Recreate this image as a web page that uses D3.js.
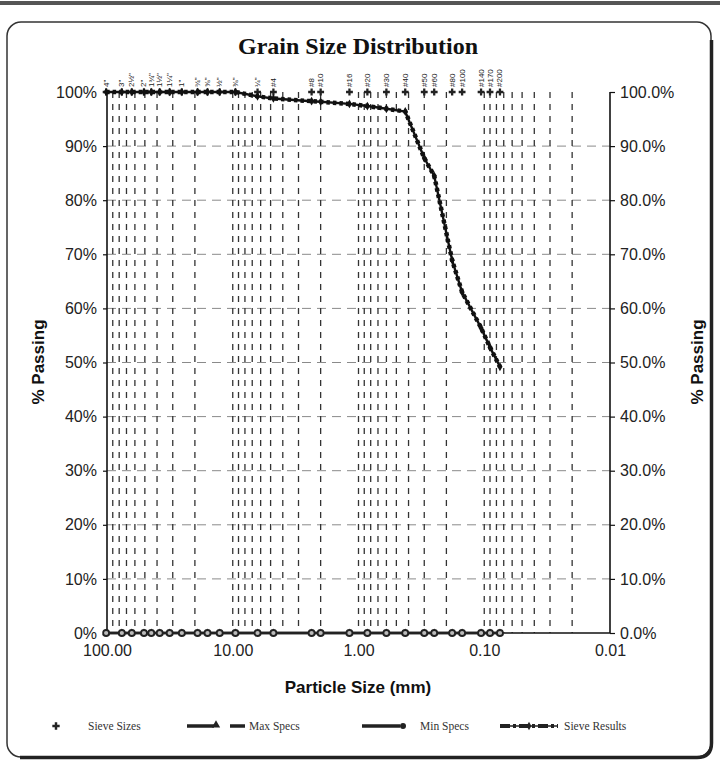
<!DOCTYPE html>
<html>
<head>
<meta charset="utf-8">
<script src="https://cdn.jsdelivr.net/npm/d3@7"></script>
<style>
  html, body { margin: 0; padding: 0; background: #fff; }
  svg { display: block; }
</style>
</head>
<body>
<svg id="chart" width="720" height="765"></svg>
<script>
// Sieve openings (mm) and their labels
const sieveLabels = ['4"', '3"', '2½"', '2"', '1¾"', '1½"', '1¼"', '1"', '¾"', '⅝"', '½"', '⅜"', '¼"',
  '#4', '#8', '#10', '#16', '#20', '#30', '#40', '#50', '#60', '#80', '#100', '#140', '#170', '#200'];
const sieveSizes = [101.6, 76.2, 63.5, 50.8, 44.45, 38.1, 31.75, 25.4, 19.05, 15.875, 12.7, 9.525, 6.35,
  4.75, 2.36, 2.0, 1.18, 0.85, 0.6, 0.425, 0.3, 0.25, 0.18, 0.15, 0.106, 0.09, 0.075];
// Percent passing at each sieve
const sievePassing = [100, 100, 100, 100, 100, 100, 100, 100, 100, 100, 100, 100, 99.2,
  98.8, 98.3, 98.2, 97.8, 97.4, 96.9, 96.4, 87.8, 84.5, 68.9, 63.0, 56.4, 52.8, 49.2];
// Specification limits (none set, plotted at zero)
const maxSpecs = [0, 0, 0, 0, 0, 0, 0, 0, 0, 0, 0, 0, 0, 0, 0, 0, 0, 0, 0, 0, 0, 0, 0, 0, 0, 0, 0];
const minSpecs = [0, 0, 0, 0, 0, 0, 0, 0, 0, 0, 0, 0, 0, 0, 0, 0, 0, 0, 0, 0, 0, 0, 0, 0, 0, 0, 0];
// Axis ticks
const xTickValues = [100, 10, 1, 0.1, 0.01];
const xTickLabels = ['100.00', '10.00', '1.00', '0.10', '0.01'];
const yTickValues = [0, 10, 20, 30, 40, 50, 60, 70, 80, 90, 100];

const svg = d3.select('#chart');
const sans = '"Liberation Sans", Arial, sans-serif';
const serif = '"Liberation Serif", "Times New Roman", serif';

const x = d3.scaleLog().domain([100, 0.01]).range([107, 610]);
const y = d3.scaleLinear().domain([0, 100]).range([633, 92]);

// page edge and frame
svg.append('rect').attr('x', 0).attr('y', 1).attr('width', 720).attr('height', 4).attr('fill', '#555');
svg.append('rect').attr('x', 7).attr('y', 22).attr('width', 704).attr('height', 735)
  .attr('rx', 14).attr('fill', 'none').attr('stroke', '#333').attr('stroke-width', 1.5);
svg.append('path').attr('d', 'M 20 757.5 L 697 757.5 Q 711.5 757.5 711.5 743 L 711.5 40')
  .attr('fill', 'none').attr('stroke', '#222').attr('stroke-width', 3.5);

// title
svg.append('text').attr('x', 358).attr('y', 54).attr('text-anchor', 'middle')
  .attr('font-family', serif).attr('font-weight', 'bold').attr('font-size', 24)
  .attr('fill', '#111').text('Grain Size Distribution');

const [x0, x1] = x.range();
const [yb, yt] = y.range();

// horizontal grid
svg.append('g').selectAll('line').data(yTickValues.filter(v => v > 0 && v < 100)).join('line')
  .attr('x1', x0).attr('x2', x1).attr('y1', d => y(d)).attr('y2', d => y(d))
  .attr('stroke', '#8a8a8a').attr('stroke-width', 1).attr('stroke-dasharray', '9,6');

// vertical grid at log minor ticks
const gridX = x.ticks().filter(v => v < 100 && v > 0.01);
svg.append('g').selectAll('line').data(gridX).join('line')
  .attr('x1', d => x(d)).attr('x2', d => x(d)).attr('y1', yt).attr('y2', yb)
  .attr('stroke', '#333').attr('stroke-width', 1.3).attr('stroke-dasharray', '6,6');

// axes
const leftAxis = d3.axisLeft(y).tickValues(yTickValues).tickFormat(d => d + '%').tickSize(4).tickPadding(6);
const rightAxis = d3.axisRight(y).tickValues(yTickValues).tickFormat(d => d.toFixed(1) + '%').tickSize(5).tickPadding(5);
const bottomAxis = d3.axisBottom(x).tickValues(xTickValues)
  .tickFormat((d, i) => xTickLabels[i]).tickSize(0).tickPadding(12);

function styleAxis(g) {
  g.select('.domain').attr('stroke', '#111').attr('stroke-width', 1.6);
  g.selectAll('.tick line').attr('stroke', '#111').attr('stroke-width', 1.2);
  g.selectAll('.tick text').attr('font-family', sans).attr('font-size', 16).attr('fill', '#222');
}
svg.append('g').attr('transform', `translate(${x0},0)`).call(leftAxis).call(styleAxis)
  .call(g => g.select('.domain').attr('d', `M0,${yt}V${yb}`));
svg.append('g').attr('transform', `translate(${x1},0)`).call(rightAxis).call(styleAxis)
  .call(g => g.select('.domain').attr('d', `M0,${yt}V${yb}`));
svg.append('g').attr('transform', `translate(0,${yb})`).call(bottomAxis).call(styleAxis)
  .call(g => g.select('.domain').attr('d', `M${x0},0H${x1}`));

// axis titles
svg.append('text').attr('x', 358).attr('y', 693).attr('text-anchor', 'middle')
  .attr('font-family', sans).attr('font-weight', 'bold').attr('font-size', 17).attr('fill', '#111')
  .text('Particle Size (mm)');
svg.append('text').attr('transform', 'translate(44,362) rotate(-90)').attr('text-anchor', 'middle')
  .attr('font-family', sans).attr('font-weight', 'bold').attr('font-size', 17).attr('fill', '#111')
  .text('% Passing');
svg.append('text').attr('transform', 'translate(703,362) rotate(-90)').attr('text-anchor', 'middle')
  .attr('font-family', sans).attr('font-weight', 'bold').attr('font-size', 17).attr('fill', '#111')
  .text('% Passing');

const idx = d3.range(sieveSizes.length);
const lineOf = vals => d3.line().x(i => x(sieveSizes[i])).y(i => y(vals[i]));

// spec series along zero
svg.append('path').attr('d', lineOf(maxSpecs)(idx)).attr('fill', 'none')
  .attr('stroke', '#222').attr('stroke-width', 2.5);
svg.append('g').selectAll('path').data(idx).join('path')
  .attr('d', d3.symbol(d3.symbolTriangle, 26))
  .attr('transform', i => `translate(${x(sieveSizes[i])},${y(maxSpecs[i])})`).attr('fill', '#222');
svg.append('path').attr('d', lineOf(minSpecs)(idx)).attr('fill', 'none')
  .attr('stroke', '#222').attr('stroke-width', 2.5);
svg.append('g').selectAll('circle').data(idx).join('circle')
  .attr('cx', i => x(sieveSizes[i])).attr('cy', i => y(minSpecs[i])).attr('r', 3)
  .attr('fill', '#bbb').attr('stroke', '#222').attr('stroke-width', 1.8);

// sieve size markers and labels at 100%
svg.append('g').selectAll('path').data(idx).join('path')
  .attr('d', d3.symbol(d3.symbolCross, 26))
  .attr('transform', i => `translate(${x(sieveSizes[i])},${y(100)})`).attr('fill', '#222');
svg.append('g').selectAll('text').data(idx).join('text')
  .attr('transform', i => `translate(${x(sieveSizes[i]) + 2.5},${y(100) - 5}) rotate(-90)`)
  .attr('font-family', sans).attr('font-size', 8).attr('fill', '#222')
  .text(i => sieveLabels[i]);

// sieve results curve
svg.append('path').attr('d', lineOf(sievePassing)(idx)).attr('fill', 'none')
  .attr('stroke', '#111').attr('stroke-width', 2.4);
svg.append('path').attr('d', lineOf(sievePassing)(idx)).attr('fill', 'none')
  .attr('stroke', '#111').attr('stroke-width', 4.5).attr('stroke-dasharray', '3.5,3');
svg.append('g').selectAll('path').data(idx).join('path')
  .attr('d', d3.symbol(d3.symbolDiamond, 22))
  .attr('transform', i => `translate(${x(sieveSizes[i])},${y(sievePassing[i])})`).attr('fill', '#111');

// legend
const ly = 730;
const lg = svg.append('g').attr('font-family', serif).attr('font-size', 11.5).attr('fill', '#333');
lg.append('path').attr('d', d3.symbol(d3.symbolCross, 30)).attr('transform', `translate(56,${ly - 4})`).attr('fill', '#222');
lg.append('text').attr('x', 88).attr('y', ly).text('Sieve Sizes');

lg.append('line').attr('x1', 187).attr('x2', 214).attr('y1', ly - 4).attr('y2', ly - 4).attr('stroke', '#222').attr('stroke-width', 3.5);
lg.append('path').attr('d', d3.symbol(d3.symbolTriangle, 30)).attr('transform', `translate(216,${ly - 5})`).attr('fill', '#222');
lg.append('line').attr('x1', 230).attr('x2', 245).attr('y1', ly - 4).attr('y2', ly - 4).attr('stroke', '#222').attr('stroke-width', 3.5);
lg.append('text').attr('x', 249).attr('y', ly).text('Max Specs');

lg.append('line').attr('x1', 362).attr('x2', 400).attr('y1', ly - 4).attr('y2', ly - 4).attr('stroke', '#222').attr('stroke-width', 3.5);
lg.append('circle').attr('cx', 403).attr('cy', ly - 4).attr('r', 3).attr('fill', '#222');
lg.append('text').attr('x', 420).attr('y', ly).text('Min Specs');

lg.append('line').attr('x1', 500).attr('x2', 558).attr('y1', ly - 4).attr('y2', ly - 4).attr('stroke', '#222').attr('stroke-width', 1.6);
lg.append('line').attr('x1', 500).attr('x2', 558).attr('y1', ly - 4).attr('y2', ly - 4).attr('stroke', '#222').attr('stroke-width', 4).attr('stroke-dasharray', '10,3,3,3');
lg.append('path').attr('d', d3.symbol(d3.symbolDiamond, 20)).attr('transform', `translate(529,${ly - 4})`).attr('fill', '#222');
lg.append('text').attr('x', 564).attr('y', ly).text('Sieve Results');
</script>
</body>
</html>
